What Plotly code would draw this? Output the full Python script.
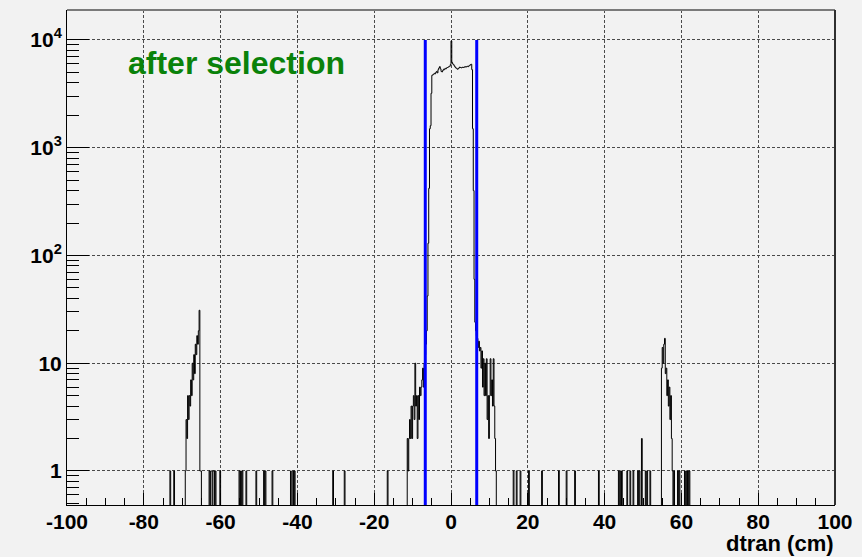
import numpy as np
import plotly.graph_objects as go

# ---- histogram definition (dtran, cm) ----
X_MIN, X_MAX, BIN_WIDTH = -100.0, 100.0, 0.2

# isolated bins with a single entry (left bin edges)
SINGLE_ENTRY_BINS = [
    -73.2, -72.2, -63.0, -62.6, -62.4, -62.0, -61.8, -61.4, -60.2,
    -55.2, -54.8, -54.4, -53.4, -50.8, -48.8, -48.4, -46.6,
    -41.8, -41.2, -40.8, -30.8, -27.8, -16.6,
    16.2, 17.0, 18.0, 20.2, 23.6, 28.0, 30.0, 32.2, 38.4,
    43.6, 44.0, 44.4, 45.8, 46.6, 47.4, 48.6, 49.0, 50.6, 51.0, 51.8,
    58.0, 59.0, 59.4, 60.8, 61.2, 61.6, 62.0,
]
DOUBLE_ENTRY_BINS = [49.6]

# contiguous runs of bins: first left edge + counts
LEFT_PEAK_START = -69.2
LEFT_PEAK_COUNTS = [1, 3, 2, 5, 3, 5, 4, 7, 5, 10, 7, 12, 8, 15, 12, 18, 15, 20, 31, 1, 1]

CENTRAL_START = -11.4
CENTRAL_COUNTS = [
    # left tail
    2, 1, 2, 3, 2, 4, 2, 4, 5, 3, 10, 4, 5, 2, 5, 3, 6, 5, 6, 7, 9, 6,
    10, 12, 15, 20, 42, 130, 420, 1500, 1600, 3200,
    # plateau
    4700, 4750, 4800, 4900, 4850, 5000, 5100, 4950, 5300, 5500, 5650,
    5400, 5100, 5050, 5200, 5350, 5300, 5450, 5400, 5500, 5550, 5600,
    5650, 5700, 5900, 9800, 6200, 6000, 5900, 5750, 5600, 5500, 5450,
    5350, 5400, 5500, 5600, 5550, 5500, 5550, 5600, 5550, 5600, 5650,
    5600, 5650, 5700, 5650, 5750, 5800, 5900, 5950, 5300, 1500, 400,
    # right tail
    60, 24, 20, 18, 17, 14, 16, 13, 14, 9, 13, 6, 11, 5, 10, 5, 11,
    3, 5, 2, 5, 11, 5, 7, 4, 11, 4, 2, 1,
]

RIGHT_PEAK_START = 54.8
RIGHT_PEAK_COUNTS = [9, 14, 10, 15, 17, 8, 9, 5, 7, 4, 6, 3, 5, 2, 1]

# selection window
CUT_DTRAN = 6.7
CUT_LINE_TOP = 1e4

X_TICK_VALUES = [-100, -80, -60, -40, -20, 0, 20, 40, 60, 80, 100]
X_TICK_TEXT = ["-100", "-80", "-60", "-40", "-20", "0", "20", "40", "60", "80", "100"]
Y_TICK_VALUES = [1, 10, 100, 1000, 10000]
Y_TICK_TEXT = ["1", "10", "10<sup>2</sup>", "10<sup>3</sup>", "10<sup>4</sup>"]

# ---- fill the bin array ----
n_bins = int(round((X_MAX - X_MIN) / BIN_WIDTH))
edges = X_MIN + BIN_WIDTH * np.arange(n_bins + 1)
counts = np.zeros(n_bins)


def bin_index(edge):
    return int(round((edge - X_MIN) / BIN_WIDTH))


for e in SINGLE_ENTRY_BINS:
    counts[bin_index(e)] = 1
for e in DOUBLE_ENTRY_BINS:
    counts[bin_index(e)] = 2
for start, run in [(LEFT_PEAK_START, LEFT_PEAK_COUNTS),
                   (CENTRAL_START, CENTRAL_COUNTS),
                   (RIGHT_PEAK_START, RIGHT_PEAK_COUNTS)]:
    i0 = bin_index(start)
    counts[i0:i0 + len(run)] = run

# empty bins fall below the log range so the outline drops to the frame
FLOOR = 1e-2
step_y = np.where(counts > 0, counts, FLOOR)
step_x = edges
step_y = np.append(step_y, step_y[-1])

Y_LOG_RANGE = [-0.316, 4.278]

fig = go.Figure()
fig.add_trace(go.Scatter(
    x=step_x, y=step_y, mode="lines",
    line=dict(color="black", width=1, shape="hv", simplify=False),
    hoverinfo="skip", showlegend=False,
))
for c in (-CUT_DTRAN, CUT_DTRAN):
    fig.add_trace(go.Scatter(
        x=[c, c], y=[FLOOR, CUT_LINE_TOP], mode="lines",
        line=dict(color="#0000ff", width=3),
        hoverinfo="skip", showlegend=False,
    ))

axis_font = dict(family="Liberation Sans, Arial, sans-serif", size=21, color="black", weight="bold")
grid_style = dict(showgrid=True, gridcolor="#4a4a4a", gridwidth=1, griddash="3px,2px")

fig.update_xaxes(
    range=[X_MIN, X_MAX], tickmode="array", tickvals=X_TICK_VALUES, ticktext=X_TICK_TEXT,
    ticks="inside", ticklen=12, tickcolor="black", tickwidth=1, ticklabelstandoff=-2,
    showline=True, linecolor="black", linewidth=1, zeroline=False,
    tickfont=axis_font,
    minor=dict(ticks="inside", ticklen=7, dtick=5, tickcolor="black", showgrid=False),
    **grid_style,
)
fig.update_yaxes(
    type="log", range=Y_LOG_RANGE, tickmode="array",
    tickvals=Y_TICK_VALUES, ticktext=Y_TICK_TEXT,
    ticks="inside", ticklen=22, tickcolor="black", tickwidth=1,
    showline=True, linecolor="black", linewidth=1, zeroline=False,
    tickfont=axis_font,
    minor=dict(ticks="inside", ticklen=12, dtick="D1", tickcolor="black", showgrid=False),
    **grid_style,
)

# upper and right frame edges
fig.add_shape(type="line", xref="x domain", yref="y domain", x0=0, x1=1, y0=1, y1=1,
              line=dict(color="#7a7a7a", width=2))
fig.add_shape(type="line", xref="x domain", yref="y domain", x0=1, x1=1, y0=0, y1=1,
              line=dict(color="#303030", width=2))

fig.add_annotation(
    text="after selection", xref="x domain", yref="y domain",
    x=0.077, y=0.893, xanchor="left", yanchor="middle", showarrow=False,
    font=dict(family="Liberation Sans, Arial, sans-serif", size=32, color="#0a820a", weight="bold"),
)
fig.add_annotation(
    text="dtran (cm)", xref="x domain", yref="y domain",
    x=1.0, y=-0.105, xanchor="right", yanchor="bottom", showarrow=False, borderpad=0,
    font=dict(family="Liberation Sans, Arial, sans-serif", size=22, color="black", weight="bold"),
)

fig.update_layout(
    width=862, height=557,
    margin=dict(l=67, r=27, t=10, b=52),
    paper_bgcolor="#f2f2f2", plot_bgcolor="#f2f2f2",
)

fig.write_html("out.html")
